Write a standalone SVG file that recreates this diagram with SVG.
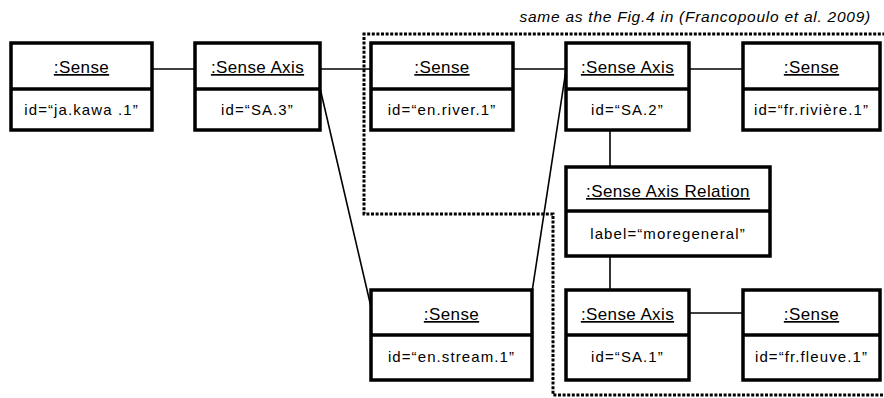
<svg xmlns="http://www.w3.org/2000/svg" width="884" height="398" viewBox="0 0 884 398">
<style>
.box{fill:#fff;stroke:#000;stroke-width:3.5}
.div{stroke:#000;stroke-width:3.5}
.hd{font-family:"Liberation Sans",Arial,sans-serif;font-size:17px;text-anchor:middle;text-decoration:underline;letter-spacing:0.4px}
.bd{font-family:"Liberation Sans",Arial,sans-serif;font-size:15px;text-anchor:middle;letter-spacing:1.1px}
.con{stroke:#000;stroke-width:1.6;fill:none}
.dot{stroke:#000;stroke-width:3;fill:none;stroke-dasharray:3 1.6}
.cap{font-family:"Liberation Sans",Arial,sans-serif;font-size:15.5px;font-style:italic;text-anchor:end;letter-spacing:0.75px}
</style>
<rect width="884" height="398" fill="#fff"/>
<path class="dot" d="M890,34 H364 V214 H553 V395 H890"/>
<text class="cap" x="871" y="22">same as the Fig.4 in (Francopoulo et al. 2009)</text>
<g id="connectors">
<line class="con" x1="152" y1="69" x2="195" y2="69"/>
<line class="con" x1="320" y1="69" x2="371" y2="69"/>
<line class="con" x1="513" y1="69" x2="566" y2="69"/>
<line class="con" x1="689" y1="69" x2="743" y2="69"/>
<line class="con" x1="320" y1="88" x2="371" y2="307"/>
<line class="con" x1="566" y1="70" x2="532" y2="292"/>
<line class="con" x1="610" y1="130" x2="610" y2="167"/>
<line class="con" x1="610" y1="256" x2="610" y2="290"/>
<line class="con" x1="689" y1="313" x2="743" y2="313"/>
</g>
<g id="n1">
<rect class="box" x="11" y="43" width="141" height="87"/>
<line class="div" x1="11" y1="89" x2="152" y2="89"/>
<text class="hd" x="81.5" y="73">:Sense</text>
<text class="bd" x="81.5" y="115">id=“ja.kawa .1”</text>
</g>
<g id="n2">
<rect class="box" x="195" y="43" width="125" height="87"/>
<line class="div" x1="195" y1="89" x2="320" y2="89"/>
<text class="hd" x="257.5" y="73">:Sense Axis</text>
<text class="bd" x="257.5" y="115">id=“SA.3”</text>
</g>
<g id="n3">
<rect class="box" x="371" y="43" width="142" height="87"/>
<line class="div" x1="371" y1="89" x2="513" y2="89"/>
<text class="hd" x="442" y="73">:Sense</text>
<text class="bd" x="442" y="115">id=“en.river.1”</text>
</g>
<g id="n4">
<rect class="box" x="566" y="43" width="123" height="87"/>
<line class="div" x1="566" y1="89" x2="689" y2="89"/>
<text class="hd" x="627.5" y="73">:Sense Axis</text>
<text class="bd" x="627.5" y="115">id=“SA.2”</text>
</g>
<g id="n5">
<rect class="box" x="743" y="43" width="137" height="87"/>
<line class="div" x1="743" y1="89" x2="880" y2="89"/>
<text class="hd" x="811.5" y="73">:Sense</text>
<text class="bd" x="811.5" y="115">id=“fr.rivière.1”</text>
</g>
<g id="n6">
<rect class="box" x="566" y="167" width="204" height="89"/>
<line class="div" x1="566" y1="211" x2="770" y2="211"/>
<text class="hd" x="668" y="197">:Sense Axis Relation</text>
<text class="bd" x="668" y="239">label=“moregeneral”</text>
</g>
<g id="n7">
<rect class="box" x="371" y="290" width="161" height="90"/>
<line class="div" x1="371" y1="335" x2="532" y2="335"/>
<text class="hd" x="451.5" y="320">:Sense</text>
<text class="bd" x="451.5" y="362">id=“en.stream.1”</text>
</g>
<g id="n8">
<rect class="box" x="566" y="290" width="123" height="90"/>
<line class="div" x1="566" y1="335" x2="689" y2="335"/>
<text class="hd" x="627.5" y="320">:Sense Axis</text>
<text class="bd" x="627.5" y="362">id=“SA.1”</text>
</g>
<g id="n9">
<rect class="box" x="743" y="290" width="137" height="90"/>
<line class="div" x1="743" y1="335" x2="880" y2="335"/>
<text class="hd" x="811.5" y="320">:Sense</text>
<text class="bd" x="811.5" y="362">id=“fr.fleuve.1”</text>
</g>
</svg>
